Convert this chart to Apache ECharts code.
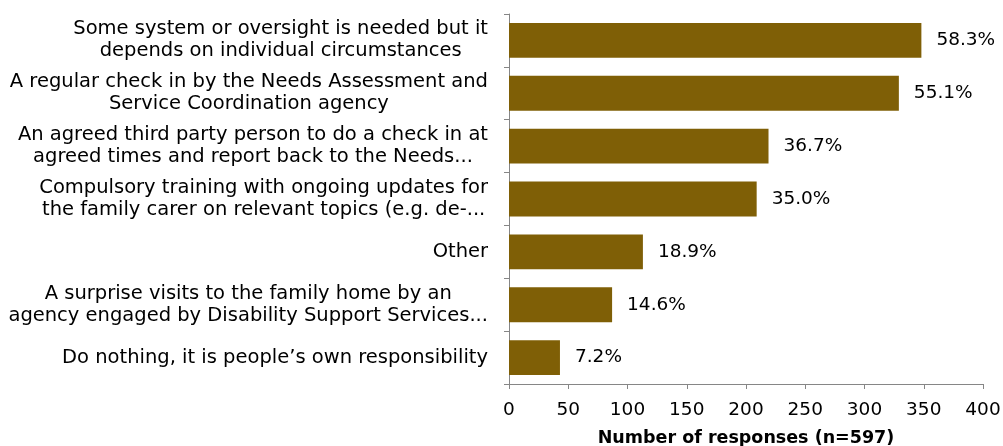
<!DOCTYPE html>
<html>
<head>
<meta charset="utf-8">
<script src="https://cdn.jsdelivr.net/npm/echarts@6/dist/echarts.min.js"></script>
<style>
  html, body { margin: 0; padding: 0; background: #ffffff; }
  #chart { width: 1003px; height: 446px; }
</style>
</head>
<body>
<div id="chart"></div>
<script>
// Survey options (each entry is a list of label lines), top to bottom
const categories = [
  ['Some system or oversight is needed but it', 'depends on individual circumstances'],
  ['A regular check in by the Needs Assessment and', 'Service Coordination agency'],
  ['An agreed third party person to do a check in at', 'agreed times and report back to the Needs...'],
  ['Compulsory training with ongoing updates for', 'the family carer on relevant topics (e.g. de-...'],
  ['Other'],
  ['A surprise visits to the family home by an', 'agency engaged by Disability Support Services...'],
  ['Do nothing, it is people\u2019s own responsibility']
];
// Number of responses per option
const responses = [348, 329, 219, 209, 113, 87, 43];
// Share of respondents shown beside each bar
const percents = ['58.3%', '55.1%', '36.7%', '35.0%', '18.9%', '14.6%', '7.2%'];
const xTicks = { min: 0, max: 400, interval: 50 };
const xTitle = 'Number of responses (n=597)';

const FONT = '"DejaVu Sans", sans-serif';
const chart = echarts.init(document.getElementById('chart'));

chart.setOption({
  animation: false,
  backgroundColor: '#ffffff',
  grid: {
    left: 509, right: 20, top: 14, bottom: 62,
    containLabel: false,
    outerBoundsMode: 'none'
  },
  xAxis: {
    type: 'value',
    min: xTicks.min,
    max: xTicks.max,
    interval: xTicks.interval,
    name: xTitle,
    nameLocation: 'middle',
    nameGap: 45,
    nameTextStyle: { fontFamily: FONT, fontSize: 17.5, fontWeight: 'bold', color: '#000' },
    axisLine: { show: true, lineStyle: { color: '#868686', width: 1 } },
    axisTick: { show: true, length: 5, lineStyle: { color: '#868686' } },
    axisLabel: { fontFamily: FONT, fontSize: 18.5, color: '#000', margin: 17 },
    splitLine: { show: false }
  },
  yAxis: {
    type: 'category',
    inverse: true,
    data: categories.map(function (lines) { return lines.join('\n'); }),
    axisLine: { show: true, lineStyle: { color: '#868686', width: 1 } },
    axisTick: { show: true, length: 5, alignWithLabel: false, lineStyle: { color: '#868686' } },
    axisLabel: {
      margin: 21,
      align: 'right',
      formatter: function (value) {
        return value.split('\n').map(function (l) { return '{c|' + l + '}'; }).join('\n');
      },
      rich: {
        c: { align: 'center', fontFamily: FONT, fontSize: 19.5, color: '#000', lineHeight: 22 }
      }
    }
  },
  series: [{
    type: 'bar',
    data: responses,
    barCategoryGap: '34%',
    itemStyle: { color: '#7F5F06' },
    label: {
      show: true,
      position: 'right',
      distance: 15,
      fontFamily: FONT,
      fontSize: 18.5,
      color: '#000',
      formatter: function (p) { return percents[p.dataIndex]; }
    }
  }]
});
</script>
</body>
</html>
